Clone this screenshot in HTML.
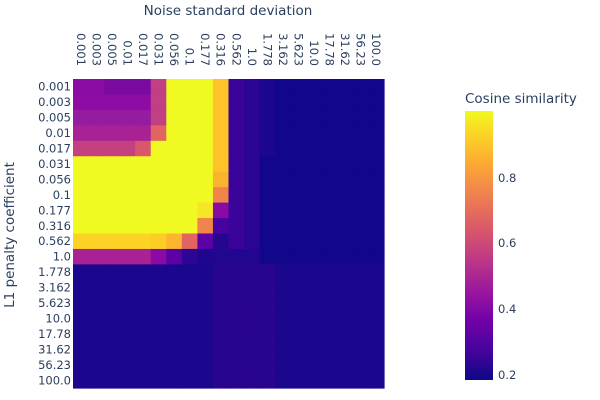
<!DOCTYPE html><html><head><style>body{margin:0;background:#fff}svg{display:block;font-family:"DejaVu Sans","Liberation Sans",sans-serif;fill:#2a3f5f}</style></head><body>
<svg id="s" width="600" height="400" xmlns="http://www.w3.org/2000/svg">
<defs><linearGradient id="pl" x1="0" y1="1" x2="0" y2="0">
<stop offset="0" stop-color="#0d0887"/><stop offset="0.111" stop-color="#46039f"/><stop offset="0.222" stop-color="#7201a8"/><stop offset="0.333" stop-color="#9c179e"/><stop offset="0.444" stop-color="#bd3786"/><stop offset="0.556" stop-color="#d8576b"/><stop offset="0.667" stop-color="#ed7953"/><stop offset="0.778" stop-color="#fb9f3a"/><stop offset="0.889" stop-color="#fdca26"/><stop offset="1" stop-color="#f0f921"/></linearGradient></defs>
<g id="hm"></g>
<text x="228" y="15" font-size="13.5" text-anchor="middle">Noise standard deviation</text>
<text transform="translate(14,235) rotate(-90)" font-size="13.5" text-anchor="middle">L1 penalty coefficient</text>
<rect x="465" y="111" width="28" height="269" fill="url(#pl)"/>
<text x="465" y="103" font-size="13.5">Cosine similarity</text>
<g font-size="11.5"><text x="498" y="182">0.8</text><text x="498" y="247">0.6</text><text x="498" y="313">0.4</text><text x="498" y="379">0.2</text></g>
<g id="lab" font-size="11.5"></g>
</svg>
<script>
var L=["0.001","0.003","0.005","0.01","0.017","0.031","0.056","0.1","0.177","0.316","0.562","1.0","1.778","3.162","5.623","10.0","17.78","31.62","56.23","100.0"];
var x0=73,y0=79,cw=15.55,ch=15.45;
var Y="#f0f921",O="#fdc328",D="#12078a",D2="#1b068e";
var g=[];
for(var r=0;r<20;r++){g[r]=[];for(var c=0;c<20;c++)g[r][c]=r<12?D:((c>=9&&c<=12)?"#28058f":D2);}
function s(r,a,b,col){for(var c=a;c<=b;c++)g[r][c]=col;}
s(0,0,1,"#8a0ca4");s(0,2,4,"#7b0aa0");
s(1,0,4,"#8e0ca4");s(2,0,4,"#951ba0");s(3,0,4,"#a82296");s(4,0,3,"#c5407e");g[4][4]="#d8576b";
for(var r=0;r<4;r++){g[r][5]=r==3?"#e16462":"#c13f83";}
for(var r=0;r<12;r++){s(r,10,10,"#3a049a");s(r,11,11,"#2c0594");s(r,12,12,"#1c068f");}
for(r=0;r<3;r++)s(r,6,8,Y);s(3,6,8,Y);s(4,5,8,Y);
for(r=5;r<8;r++)s(r,0,8,Y);
for(r=0;r<7;r++)g[r][9]=O;g[6][9]="#fbb32f";g[7][9]="#f1844b";
s(8,0,7,Y);g[8][8]="#f5e726";g[8][9]="#8b0aa5";
s(9,0,7,Y);g[9][8]="#f1844b";g[9][9]="#46039f";
s(10,0,4,"#fcd225");g[10][5]="#fcce25";g[10][6]="#fdb42f";g[10][7]="#e16462";g[10][8]="#5c01a6";s(10,9,9,"#24068f");
s(11,0,4,"#a82296");g[11][5]="#8b0aa5";g[11][6]="#5c01a6";g[11][7]="#2c0594";g[11][8]="#1e068f";s(11,9,12,"#22068f");
for(r=5;r<12;r++)s(r,12,12,D);
var h="";for(r=0;r<20;r++)for(var c=0;c<20;c++)h+='<rect x="'+(x0+c*cw)+'" y="'+(y0+r*ch)+'" width="'+(cw+0.6)+'" height="'+(ch+0.6)+'" fill="'+g[r][c]+'"/>';
document.getElementById("hm").innerHTML=h;
var t="";for(var i=0;i<20;i++){t+='<text x="71" y="'+(y0+i*ch+ch/2+4)+'" text-anchor="end">'+L[i]+'</text>';
t+='<text transform="translate('+(x0+i*cw+cw/2-4)+',66) rotate(90)" text-anchor="end">'+L[i]+'</text>';}
document.getElementById("lab").innerHTML=t;
</script></body></html>
